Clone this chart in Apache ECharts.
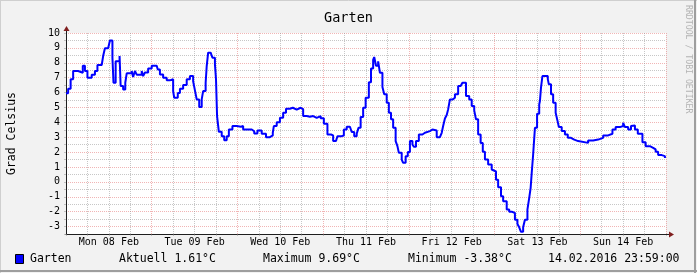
<!DOCTYPE html>
<html><head><meta charset="utf-8">
<script src="https://cdn.jsdelivr.net/npm/echarts@6/dist/echarts.min.js"></script>
<style>html,body{margin:0;padding:0;background:#f2f2f2}#c{width:697px;height:273px}</style>
</head><body><div id="c"></div>
<script>
const chartTitle = 'Garten';
const yName = 'Grad Celsius';
const seriesName = 'Garten';
const dayLabels = ['Mon 08 Feb','Tue 09 Feb','Wed 10 Feb','Thu 11 Feb','Fri 12 Feb','Sat 13 Feb','Sun 14 Feb'];
const yRange = [-3.5, 10];
const statTexts = ['Aktuell 1.61°C', 'Maximum 9.69°C', 'Minimum -3.38°C', '14.02.2016 23:59:00'];
const watermark = 'RRDTOOL / TOBI OETIKER';

// hours since Mon 08 Feb 00:00
const hours = [
0.0,0.6,1.3,2.0,3.4,4.7,5.3,6.0,7.2,8.1,8.8,10.0,10.4,10.9,11.8,12.3,13.0,13.3,13.9,15.0,15.3,16.0,16.6,17.0,18.4,18.8,19.3,19.8,21.2,21.6,22.1,23.0,24.0,
25.4,25.7,26.3,27.2,28.2,29.1,30.0,30.3,31.3,31.9,32.8,33.8,34.7,35.6,36.1,36.6,37.3,38.0,38.4,39.1,39.4,39.8,40.5,41.0,41.7,42.0,42.3,42.8,43.6,44.3,45.0,45.6,46.6,47.8,49.0,49.6,50.6,52.0,52.7,
53.6,54.8,56.0,57.1,57.9,58.2,59.0,59.9,60.8,61.6,62.7,63.5,64.6,65.7,66.4,67.4,68.3,69.2,70.2,71.3,72.2,73.2,74.2,74.8,75.6,76.0,77.2,77.8,78.6,79.5,
80.0,80.7,81.4,81.9,82.5,83.2,83.9,84.8,85.4,86.0,86.3,86.8,87.4,87.9,88.6,89.1,89.8,90.4,91.0,91.6,92.3,92.8,93.2,94.0,94.4,95.1,95.7,96.3,97.0,97.4,98.0,98.8,99.8,100.5,101.9,102.6,103.8,104.7,105.2,105.6,106.1,
106.6,107.0,107.5,108.3,108.9,109.8,110.5,111.0,112.0,112.9,113.6,114.3,114.8,115.4,116.1,116.7,117.3,118.2,119.2,119.6,120.4,121.0,121.8,122.4,123.4,124.1,124.8,125.7,126.4,126.9,127.4,128.0,128.5,129.2,129.7,130.1,130.4,130.8,131.3,131.9,132.5,
132.7,133.0,133.4,134.9,135.2,135.8,136.4,137.1,137.6,138.0,138.8,139.7,140.5,141.4,142.3,143.4,146.2,147.6,149.0,150.4,151.8,153.0,153.9,155.1,156.0,156.5,157.4,158.2,158.6,159.3,160.1,161.4,162.3,163.5,164.4,165.1,165.8,166.8,167.7
];
const temps = [
5.95,6.26,6.9,7.45,7.33,7.8,7.45,7.0,7.2,7.45,7.85,7.9,8.45,8.97,9.05,9.5,8.35,6.66,8.1,8.45,6.44,6.2,6.66,7.29,7.45,7.05,7.45,7.2,7.45,7.1,7.35,7.62,7.8,
7.7,7.55,7.22,7.0,6.82,6.9,6.1,5.65,5.97,6.26,6.5,6.9,7.11,6.76,6.15,5.54,5.03,5.54,6.1,6.66,7.78,8.68,8.75,8.34,7.9,6.9,4.42,3.36,3.07,2.8,3.07,3.52,3.75,3.7,3.75,3.52,3.52,3.4,3.25,
3.45,3.23,3.0,3.12,3.3,3.75,4.0,4.3,4.64,4.91,4.98,4.85,4.98,4.88,4.42,4.37,4.42,4.3,4.42,4.28,3.9,3.18,3.12,2.74,2.84,3.07,3.12,3.52,3.7,3.6,
3.35,3.07,3.23,3.63,4.35,4.98,5.65,6.7,7.62,8.19,8.39,7.8,8.1,7.33,6.37,5.88,5.32,4.64,4.2,3.63,2.74,2.4,1.95,1.5,1.28,1.73,2.0,2.74,2.51,2.36,2.74,3.18,3.3,3.41,3.52,3.45,3.0,3.12,3.3,3.75,4.26,
4.49,4.87,5.54,5.65,5.88,6.44,6.33,6.66,5.77,5.54,5.09,4.8,4.2,3.18,2.62,2.02,1.5,1.16,0.83,0.7,0.15,-0.36,-0.96,-1.3,-1.86,-2.0,-2.09,-2.54,-2.83,-3.05,-3.35,-3.05,-2.54,-1.86,-1.08,-0.4,0.6,1.84,3.63,4.58,5.2,
5.43,6.33,7.11,6.9,6.55,5.88,5.32,4.64,4.13,3.68,3.41,3.18,2.96,2.84,2.74,2.62,2.78,2.84,2.96,3.12,3.23,3.52,3.68,3.75,3.97,3.68,3.52,3.75,3.79,3.52,3.23,2.67,2.4,2.29,2.18,2.02,1.8,1.73,1.61
];

const FONT = '"DejaVu Sans Mono", monospace';
const GRID = 'rgba(143,143,143,0.5)';
const MGRID = 'rgba(222,79,79,0.42)';
const AXIS = '#1f1f1f';
const ARROW = '#801f1f';

const chart = echarts.init(document.getElementById('c'), null, {renderer: 'canvas'});
const option = {
  backgroundColor: '#f2f2f2',
  animation: false,
  title: {
    text: chartTitle, left: 'center', top: 6,
    textStyle: {fontFamily: FONT, fontSize: 13.5, fontWeight: 'normal', color: '#000'}
  },
  grid: {left: 66, top: 33, width: 600, height: 201, show: true, backgroundColor: '#ffffff', borderWidth: 0},
  xAxis: {
    type: 'value', min: 0, max: 168, interval: 6,
    axisLine: {show: true, onZero: false, lineStyle: {color: AXIS, width: 1}},
    axisTick: {show: true, length: 2, lineStyle: {color: GRID}},
    splitLine: {show: true, lineStyle: {color: [MGRID, GRID, GRID, GRID], type: [1, 1], width: 1}},
    axisLabel: {
      show: true, margin: 3, fontFamily: FONT, fontSize: 10, color: '#000', hideOverlap: false,
      showMinLabel: true, showMaxLabel: true,
      formatter: function (v) { return (v % 24 === 12) ? dayLabels[Math.floor(v / 24)] : ''; }
    }
  },
  yAxis: {
    type: 'value', min: yRange[0], max: yRange[1], interval: 0.5,
    axisLine: {show: true, onZero: false, lineStyle: {color: AXIS, width: 1}},
    axisTick: {show: true, length: 2, lineStyle: {color: GRID}},
    splitLine: {show: true, lineStyle: {color: [GRID, MGRID], type: [1, 1], width: 1}},
    axisLabel: {
      show: true, margin: 6, fontFamily: FONT, fontSize: 10, color: '#000',
      formatter: function (v) { return Number.isInteger(v) ? String(v) : ''; }
    }
  },
  series: [{
    name: seriesName, type: 'line', step: 'end', showSymbol: false, symbol: 'none',
    lineStyle: {color: '#0000ff', width: 2}, itemStyle: {color: '#0000ff'},
    data: hours.map(function (h, i) { return [h, temps[i]]; }),
    z: 5
  }]
};
chart.setOption(option);

const tl = chart.convertToPixel({gridIndex: 0}, [0, yRange[1]]);
const br = chart.convertToPixel({gridIndex: 0}, [168, yRange[0]]);
const ax = Math.round(tl[0]) + 0.5, ay = Math.round(br[1]) + 0.5;
const textStyle = function (t, x, y, size, color) {
  return {type: 'text', x: x, y: y, style: {text: t, font: size + 'px ' + FONT, fill: color || '#000', textVerticalAlign: 'middle'}};
};
const legendY = 259;
chart.setOption({
  graphic: [
    {type: 'line', shape: {x1: 0, y1: 0.5, x2: 697, y2: 0.5}, style: {stroke: '#cfcfcf', lineWidth: 1}},
    {type: 'line', shape: {x1: 0.5, y1: 0, x2: 0.5, y2: 273}, style: {stroke: '#cfcfcf', lineWidth: 1}},
    {type: 'line', shape: {x1: 0, y1: 271, x2: 697, y2: 271}, style: {stroke: '#9e9e9e', lineWidth: 2}},
    {type: 'line', shape: {x1: 695, y1: 0, x2: 695, y2: 273}, style: {stroke: '#9e9e9e', lineWidth: 2}},
    {type: 'line', z: 10, shape: {x1: ax, y1: tl[1], x2: ax, y2: tl[1] - 3}, style: {stroke: AXIS, lineWidth: 1}},
    {type: 'polygon', z: 10, shape: {points: [[ax, tl[1] - 7], [ax - 3, tl[1] - 2], [ax + 3, tl[1] - 2]]}, style: {fill: ARROW}},
    {type: 'line', z: 10, shape: {x1: br[0], y1: ay, x2: br[0] + 3, y2: ay}, style: {stroke: AXIS, lineWidth: 1}},
    {type: 'polygon', z: 10, shape: {points: [[br[0] + 8, ay], [br[0] + 3, ay - 3], [br[0] + 3, ay + 3]]}, style: {fill: ARROW}},
    {type: 'text', x: 12, y: (tl[1] + br[1]) / 2, rotation: Math.PI / 2,
     style: {text: yName, font: '11.5px ' + FONT, fill: '#000', textAlign: 'center', textVerticalAlign: 'middle'}},
    {type: 'text', x: 688, y: 5, rotation: -Math.PI / 2,
     style: {text: watermark, font: '8.2px ' + FONT, fill: '#b4b4b4', textAlign: 'left', textVerticalAlign: 'middle'}},
    {type: 'rect', shape: {x: 15.5, y: 254.5, width: 8, height: 9}, style: {fill: '#0000ff', stroke: '#000', lineWidth: 1}},
    textStyle(seriesName, 30, legendY, 11.5),
    textStyle(statTexts[0], 119, legendY, 11.5),
    textStyle(statTexts[1], 263, legendY, 11.5),
    textStyle(statTexts[2], 408, legendY, 11.5),
    textStyle(statTexts[3], 548, legendY, 11.5)
  ]
});
</script></body></html>
